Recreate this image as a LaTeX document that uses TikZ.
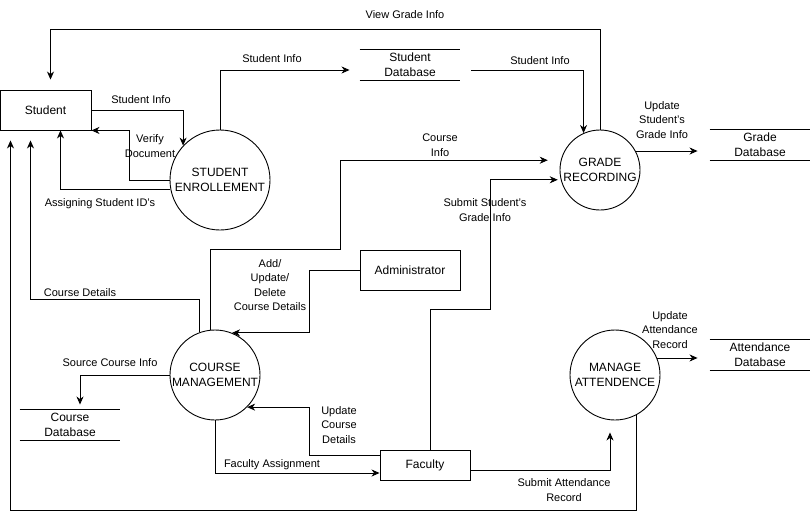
\documentclass[tikz,border=0pt]{standalone}
\usepackage{fontspec}
\setmainfont{Liberation Sans}
\usepackage{tikz}
\usetikzlibrary{arrows.meta,positioning,calc}

\begin{document}
\begin{tikzpicture}[
    x=1pt, y=-1pt, line width=0.9pt,
    entity/.style={draw, minimum width=#1, minimum height=40pt, inner sep=0pt, font=\fontsize{12}{15}\selectfont},
    entity/.default=90pt,
    proc/.style={draw, circle, minimum size=#1, inner sep=0pt, align=center, font=\fontsize{12}{15}\selectfont},
    store/.style={minimum width=100pt, minimum height=30pt, inner sep=0pt, align=center, font=\fontsize{12}{15}\selectfont},
    lbl/.style={inner sep=0pt, align=center, font=\fontsize{11}{14.5}\selectfont},
    flow/.style={-{Stealth[length=8pt,width=7pt,inset=2.5pt]}}
]
\useasboundingbox (0,0) rectangle (811,519);
\node[entity=91pt] (student) at (45.5,110) {Student};
\node[entity=100pt] (admin) at (410,270) {Administrator};
\node[entity=90pt, minimum height=30pt] (fac) at (425,465) {Faculty};
\node[proc=100pt] (enroll) at (220,180) {STUDENT\\ENROLLEMENT};
\node[proc=80pt] (grade) at (600,170) {GRADE\\RECORDING};
\node[proc=90pt] (course) at (215,375) {COURSE\\MANAGEMENT};
\node[proc=90pt] (attend) at (615,375) {MANAGE\\ATTENDENCE};
\node[store] (sdb) at (410,65) {Student\\Database};
\node[store] (gdb) at (760,145) {Grade\\Database};
\node[store] (adb) at (760,355) {Attendance\\Database};
\node[store] (cdb) at (70,425) {Course\\Database};
\foreach \s in {sdb,gdb,adb,cdb}{
  \draw (\s.north west) -- (\s.north east);
  \draw (\s.south west) -- (\s.south east);
}
\draw[flow] (grade.north) -- ++(0,-100) -| ([shift={(5pt,10pt)}]student.north);
\draw[flow] (student.east) -| (enroll.137);
\draw[flow] (enroll.west) -- ++(-40,0) |- (student.south east);
\draw[flow] (enroll.191) -| ([xshift=15pt]student.south);
\draw[flow] (enroll.north) |- ([shift={(-10pt,-5pt)}]sdb.west);
\draw[flow] ([shift={(11pt,-5pt)}]sdb.east) -| (grade.114);
\draw[flow] (grade.28) -- ($(grade.28 -| gdb.west)+(-12,0)$);
\draw[flow] (course.96) -- ++(0,-80) -- ++(130,0) |- ([xshift=-13pt]grade.166);
\draw[flow] (course.110) -- ++(0,-33) -| ([shift={(-15pt,-10pt)}]student.south);
\draw[flow] (admin.west) -- ++(-50,0) |- (course.68);
\draw[flow] (course.west) -| ([shift={(10pt,5pt)}]cdb.north);
\draw[flow] ([yshift=10pt]fac.west) -- ++(-70,0) |- (course.-45);
\draw[flow] (course.south) |- ([yshift=-8pt]fac.west);
\draw[flow] ([xshift=5pt]fac.north) -- ++(0,-140) -- ++(60,0) |- ([xshift=-3pt]grade.194);
\draw[flow] ([yshift=-5pt]fac.east) -| ([shift={(-5pt,-12pt)}]attend.south);
\draw[flow] (attend.-62) -- ++(0,95) -| ([shift={(-35pt,-10pt)}]student.south);
\draw[flow] (attend.22) -- ($(attend.22 -| adb.west)+(-12,0)$);
\node[lbl] (lview) at (405,15) {View Grade Info};
\node[lbl] (lstud1) at (141,100) {Student Info};
\node[lbl] (lverify) at (150,146) {Verify\\Document};
\node[lbl] (lassign) at (100,204) {Assigning Student ID's};
\node[lbl] (lstud2) at (272,59) {Student Info};
\node[lbl] (lstud3) at (540,61) {Student Info};
\node[lbl] (lcinfo) at (440,145) {Course\\Info};
\node[lbl] (lupdgrade) at (662,120) {Update\\Student's\\Grade Info};
\node[lbl] (lsubgrade) at (485,210) {Submit Student's\\Grade Info};
\node[lbl] (lcdet) at (80,293) {Course Details};
\node[lbl] (ladd) at (270,285) {Add/\\Update/\\Delete\\Course Details};
\node[lbl] (lsource) at (110,363) {Source Course Info};
\node[lbl] (lupdcourse) at (339,425) {Update\\Course\\Details};
\node[lbl] (lfacassign) at (272,465) {Faculty Assignment};
\node[lbl] (lupdatt) at (670,330) {Update\\Attendance\\Record};
\node[lbl] (lsubatt) at (564,490) {Submit Attendance\\Record};
\end{tikzpicture}
\end{document}
